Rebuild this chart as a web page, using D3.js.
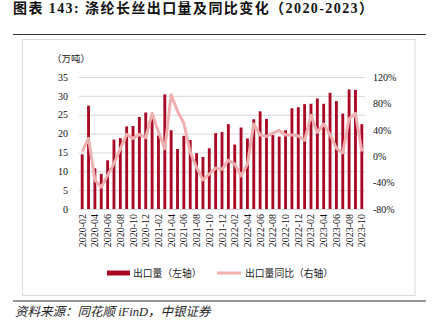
<!DOCTYPE html>
<html><head><meta charset="utf-8">
<script src="https://cdn.jsdelivr.net/npm/d3@7"></script>
<style>
body{margin:0;background:#fff;}
svg{display:block;}
</style></head>
<body>
<svg id="c" width="433" height="330"></svg>
<script>
const months = ["2020-02","2020-03","2020-04","2020-05","2020-06","2020-07","2020-08","2020-09","2020-10","2020-11","2020-12",
"2021-01","2021-02","2021-03","2021-04","2021-05","2021-06","2021-07","2021-08","2021-09","2021-10","2021-11","2021-12",
"2022-01","2022-02","2022-03","2022-04","2022-05","2022-06","2022-07","2022-08","2022-09","2022-10","2022-11","2022-12",
"2023-01","2023-02","2023-03","2023-04","2023-05","2023-06","2023-07","2023-08","2023-09","2023-10"];
const exportVol = [14.5,27.4,10.8,9.3,12.9,18.4,18.8,21.9,22.0,24.4,25.6,24.0,19.5,30.4,20.9,15.9,19.4,18.3,14.8,13.8,16.1,20.1,20.4,22.5,17.1,21.6,18.7,23.8,25.9,23.9,19.6,19.2,20.9,26.7,27.0,27.8,27.9,29.3,27.9,30.8,28.6,25.3,31.7,31.6,22.5];
const exportYoY = [6.8,27,-36,-47,-29,-11,11,33,27,33,28,65,37,11,93,68,50,6,-17,-36,-27,-18,-20,-6,-12,-30,-12,49,32,30,35,39,32,32,31,24,62,36,49,33,12,5,57,65,7];
const leftTicks = [0,5,10,15,20,25,30,35];
const rightTicks = [-80,-40,0,40,80,120];
const xTickLabels = months.filter((m,i)=>i%2===0);

const barColor = "#A80A26", lineColor = "#F0AFAF";
const serif = "'Liberation Serif','Noto Sans CJK SC',serif";
const cjk = "'Liberation Serif','Noto Sans CJK SC',sans-serif";

const svg = d3.select("#c");
const L = 79, R = 365, T = 77, B = 209;

// title
svg.append("text").attr("x",13).attr("y",12.5).attr("font-family",cjk).attr("font-weight","bold")
  .attr("font-size",14).attr("fill","#111")
  .attr("textLength",360).attr("lengthAdjust","spacing")
  .text("图表 143:  涤纶长丝出口量及同比变化（2020-2023）");
svg.append("line").attr("x1",13).attr("x2",426).attr("y1",34.5).attr("y2",34.5).attr("stroke","#333").attr("stroke-width",1.2);
svg.append("line").attr("x1",13).attr("x2",426).attr("y1",301).attr("y2",301).attr("stroke","#333").attr("stroke-width",1.2);
svg.append("rect").attr("x",22.5).attr("y",39.5).attr("width",392.5).attr("height",256)
  .attr("fill","none").attr("stroke","#dcdcdc");

const x = d3.scaleBand().domain(months).range([L,R]).paddingInner(0.55).paddingOuter(0.275);
const yL = d3.scaleLinear().domain([0,35]).range([B,T]);
const yR = d3.scaleLinear().domain([-80,120]).range([B,T]);

// grid
svg.append("g").selectAll("line").data(leftTicks).join("line")
  .attr("x1",L).attr("x2",R).attr("y1",d=>yL(d)+0.5).attr("y2",d=>yL(d)+0.5)
  .attr("stroke","#d9d9d9").attr("stroke-width",1);

// left axis
const gl = svg.append("g").attr("transform",`translate(${L},0)`)
  .call(d3.axisLeft(yL).tickValues(leftTicks).tickSize(0).tickPadding(11));
gl.select(".domain").remove();
gl.selectAll("text").attr("font-family",serif).attr("font-size",10).attr("fill","#111");

// right axis
const gr = svg.append("g").attr("transform",`translate(${R},0)`)
  .call(d3.axisRight(yR).tickValues(rightTicks).tickSize(0).tickPadding(8).tickFormat(d=>d+"%"));
gr.select(".domain").remove();
gr.selectAll("text").attr("font-family",serif).attr("font-size",10).attr("fill","#111");

// unit
svg.append("text").attr("x",52).attr("y",62).attr("font-family",cjk).attr("font-size",9.5).attr("fill","#222").text("（万吨）");

// bars
svg.append("g").selectAll("rect").data(exportVol).join("rect")
  .attr("x",(d,i)=>x(months[i])).attr("width",x.bandwidth())
  .attr("y",d=>yL(d)).attr("height",d=>yL(0)-yL(d)).attr("fill",barColor);

// line
const line = d3.line().x((d,i)=>x(months[i])+x.bandwidth()/2).y(d=>yR(d));
svg.append("path").datum(exportYoY).attr("d",line).attr("fill","none")
  .attr("stroke",lineColor).attr("stroke-width",3).attr("stroke-linejoin","round");

// x labels
svg.append("g").selectAll("text").data(xTickLabels).join("text")
  .attr("transform",d=>`translate(${x(d)+x.bandwidth()/2+3.5},214) rotate(-90)`)
  .attr("text-anchor","end").attr("font-family",serif).attr("font-size",10).attr("fill","#111").text(d=>d);

// legend
svg.append("rect").attr("x",107).attr("y",270.5).attr("width",23).attr("height",5).attr("fill",barColor);
svg.append("text").attr("x",133).attr("y",277).attr("font-family",cjk).attr("font-size",9.8).attr("fill","#222").text("出口量（左轴）");
svg.append("line").attr("x1",217).attr("x2",241).attr("y1",273).attr("y2",273).attr("stroke",lineColor).attr("stroke-width",3);
svg.append("text").attr("x",245).attr("y",277).attr("font-family",cjk).attr("font-size",9.8).attr("fill","#222").text("出口量同比（右轴）");

// source
svg.append("text").attr("x",15).attr("y",316).attr("font-family",cjk).attr("font-style","italic")
  .attr("font-size",12.5).attr("fill","#222").text("资料来源：同花顺 iFinD，中银证券");
</script>
</body></html>
